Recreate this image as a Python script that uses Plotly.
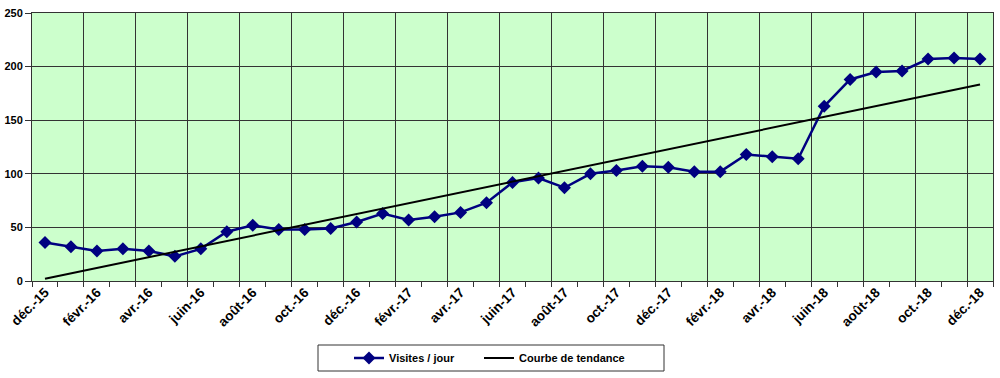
import numpy as np
import plotly.graph_objects as go

months = ["déc.-15", "janv.-16", "févr.-16", "mars-16", "avr.-16", "mai-16", "juin-16", "juil.-16",
          "août-16", "sept.-16", "oct.-16", "nov.-16", "déc.-16", "janv.-17", "févr.-17", "mars-17",
          "avr.-17", "mai-17", "juin-17", "juil.-17", "août-17", "sept.-17", "oct.-17", "nov.-17",
          "déc.-17", "janv.-18", "févr.-18", "mars-18", "avr.-18", "mai-18", "juin-18", "juil.-18",
          "août-18", "sept.-18", "oct.-18", "nov.-18", "déc.-18"]
visites = [36, 32, 28, 30, 28, 23, 30, 46, 52, 48, 48, 49, 55, 63, 57, 60, 64, 73, 92, 96, 87,
           100, 103, 107, 106, 102, 102, 118, 116, 114, 163, 188, 195, 196, 207, 208, 207]
y_ticks = [0, 50, 100, 150, 200, 250]

idx = np.arange(len(months))
slope, intercept = np.polyfit(idx, visites, 1)
trend = slope * idx + intercept

font = "Arial, Liberation Sans, sans-serif"
fig = go.Figure()
fig.add_trace(go.Scatter(x=idx, y=visites, mode="lines+markers", name="Visites / jour",
                         line=dict(color="#000080", width=2.5),
                         marker=dict(symbol="diamond", size=10, color="#000080"),
                         legend="legend"))
fig.add_trace(go.Scatter(x=[idx[0], idx[-1]], y=[trend[0], trend[-1]], mode="lines",
                         name="Courbe de tendance", line=dict(color="black", width=2),
                         legend="legend2"))
fig.add_trace(go.Scatter(x=[0], y=[None], xaxis="x2", showlegend=False, hoverinfo="skip"))

label_pos = idx[::2]
boundaries = np.arange(1.5, len(months) - 1, 2)
rng = [-0.5, len(months) - 0.5]

W, H = 1000, 378
L, R, T, B = 32, 7, 13, 97
pw, ph = W - L - R, H - T - B

def px_x(x):
    return (x - L) / pw

def px_y(y):
    return ((T + ph) - y) / ph

leg_common = dict(orientation="h", xanchor="left", y=px_y(358), yanchor="middle",
                  borderwidth=0, bgcolor="rgba(0,0,0,0)",
                  font=dict(family=font, size=11, color="black", weight="bold"),
                  itemwidth=30)

fig.update_layout(
    width=W, height=H,
    margin=dict(l=L, r=R, t=T, b=B, autoexpand=False),
    paper_bgcolor="white", plot_bgcolor="#CCFFCC",
    showlegend=True,
    legend=dict(x=px_x(349), **leg_common),
    legend2=dict(x=px_x(479), **leg_common),
    shapes=[dict(type="rect", xref="paper", yref="paper",
                 x0=px_x(318), x1=px_x(664), y0=px_y(345), y1=px_y(371),
                 line=dict(color="#333333", width=1), fillcolor="rgba(0,0,0,0)", layer="below")],
    xaxis=dict(range=rng, tickvals=boundaries, ticktext=["" for _ in boundaries],
               showgrid=True, gridcolor="#333333", gridwidth=1, automargin=False,
               ticks="outside", ticklen=5, tickcolor="#333333",
               minor=dict(tick0=-0.5, dtick=1, ticks="outside", ticklen=5, tickcolor="#333333", showgrid=False),
               showline=True, linecolor="#333333", linewidth=1, mirror=True, zeroline=False),
    xaxis2=dict(range=rng, overlaying="x", anchor="y", side="bottom", automargin=False,
                tickvals=label_pos, ticktext=[months[i] for i in label_pos],
                tickangle=-45, ticks="", showgrid=False, showline=False, zeroline=False,
                tickfont=dict(family=font, size=13.5, color="black", weight="bold")),
    yaxis=dict(range=[0, 250], tickvals=y_ticks, showgrid=True, gridcolor="#333333", gridwidth=1,
               ticks="outside", ticklen=6, tickcolor="#333333", automargin=False,
               showline=True, linecolor="#333333", linewidth=1, mirror=True, zeroline=False,
               tickfont=dict(family=font, size=11, color="black", weight="bold")),
)
fig.write_html("out.html", config={"displayModeBar": False},
               post_script="document.body.style.margin='0';document.body.style.overflow='hidden';")
